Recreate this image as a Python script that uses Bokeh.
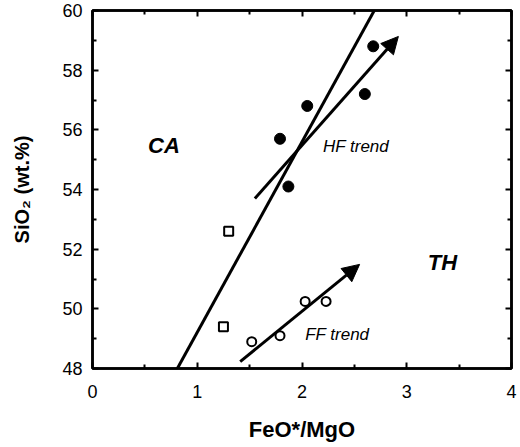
from bokeh.plotting import figure
from bokeh.models import Range1d, FixedTicker, LinearAxis, Arrow, NormalHead, Label
from bokeh.embed import file_html
from bokeh.resources import INLINE

# ---- data ----
hf_x = [1.79, 1.87, 2.05, 2.60, 2.68]
hf_y = [55.7, 54.1, 56.8, 57.2, 58.8]
ff_x = [1.52, 1.79, 2.03, 2.23]
ff_y = [48.9, 49.1, 50.25, 50.25]
sq_x = [1.30, 1.25]
sq_y = [52.6, 49.4]

divider_x = [0.81, 2.69]
divider_y = [48.0, 60.0]

hf_arrow_x = [1.55, 2.92]
hf_arrow_y = [53.7, 59.13]
ff_arrow_x = [1.41, 2.55]
ff_arrow_y = [48.23, 51.49]

x_ticks = [0, 1, 2, 3, 4]
x_minor = [0.5, 1.5, 2.5, 3.5]
y_ticks = [48, 50, 52, 54, 56, 58, 60]
y_minor = [49, 51, 53, 55, 57, 59]

field_labels = ["CA", "TH"]
field_x = [0.53, 3.20]
field_y = [55.49, 51.56]
trend_labels = ["HF trend", "FF trend"]
trend_x = [2.20, 2.03]
trend_y = [55.45, 49.13]

x_title = "FeO*/MgO"
y_title = "SiO\u2082 (wt.%)"

FONT = "Liberation Sans"

p = figure(width=520, height=447, x_range=Range1d(0, 4), y_range=Range1d(48, 60),
           output_backend="svg", toolbar_location=None,
           min_border_left=92, min_border_right=9, min_border_top=10, min_border_bottom=79)
p.grid.visible = False
p.outline_line_color = "black"
p.outline_line_width = 2.5
p.background_fill_color = "white"
p.border_fill_color = "white"

def style(ax, labels=True):
    ax.axis_line_width = 2.5
    ax.axis_line_color = "black"
    ax.major_tick_in = 6
    ax.major_tick_out = 0
    ax.minor_tick_in = 4
    ax.minor_tick_out = 0
    ax.major_tick_line_width = 2
    ax.minor_tick_line_width = 2
    ax.major_tick_line_color = "black"
    ax.minor_tick_line_color = "black"
    if labels:
        ax.major_label_text_font = FONT
        ax.major_label_text_font_size = "18px"
        ax.major_label_text_color = "black"
        ax.axis_label_text_font = FONT
        ax.axis_label_text_font_style = "bold"
        ax.axis_label_text_color = "black"
    else:
        ax.major_label_text_font_size = "0px"
        ax.major_label_text_alpha = 0
        ax.major_label_standoff = 0

p.xaxis.ticker = FixedTicker(ticks=x_ticks, minor_ticks=x_minor)
p.yaxis.ticker = FixedTicker(ticks=y_ticks, minor_ticks=y_minor)
style(p.xaxis[0])
style(p.yaxis[0])
p.xaxis.major_label_standoff = 16
p.yaxis.major_label_standoff = 10
p.xaxis.axis_label = x_title
p.xaxis.axis_label_text_font_size = "22px"
p.xaxis.axis_label_standoff = 16
p.yaxis.axis_label = y_title
p.yaxis.axis_label_text_font_size = "20px"
p.yaxis.axis_label_standoff = 26

top = LinearAxis(ticker=FixedTicker(ticks=x_ticks, minor_ticks=x_minor))
style(top, labels=False)
p.add_layout(top, "above")
right = LinearAxis(ticker=FixedTicker(ticks=y_ticks, minor_ticks=y_minor))
style(right, labels=False)
p.add_layout(right, "right")

# divider line
p.line(divider_x, divider_y, line_color="black", line_width=3)

# trend arrows
for ax_, ay_ in [(hf_arrow_x, hf_arrow_y), (ff_arrow_x, ff_arrow_y)]:
    p.add_layout(Arrow(x_start=ax_[0], y_start=ay_[0], x_end=ax_[1], y_end=ay_[1],
                       line_width=3, line_color="black",
                       end=NormalHead(size=17, fill_color="black", line_color="black", line_width=1)))

# points
p.scatter(hf_x, hf_y, marker="circle", size=11, fill_color="black", line_color="black")
p.scatter(ff_x, ff_y, marker="circle", size=9, fill_color="white", line_color="black", line_width=2)
p.scatter(sq_x, sq_y, marker="square", size=9, fill_color="white", line_color="black", line_width=2)

for t, x, y in zip(field_labels, field_x, field_y):
    p.add_layout(Label(x=x, y=y, text=t, text_font=FONT, text_font_size="22px",
                       text_font_style="bold italic", text_color="black",
                       text_baseline="alphabetic", text_align="left"))
for t, x, y in zip(trend_labels, trend_x, trend_y):
    p.add_layout(Label(x=x, y=y, text=t, text_font=FONT, text_font_size="17px",
                       text_font_style="italic", text_color="black",
                       text_baseline="alphabetic", text_align="left"))

open("out.html", "w").write(file_html(p, INLINE))
